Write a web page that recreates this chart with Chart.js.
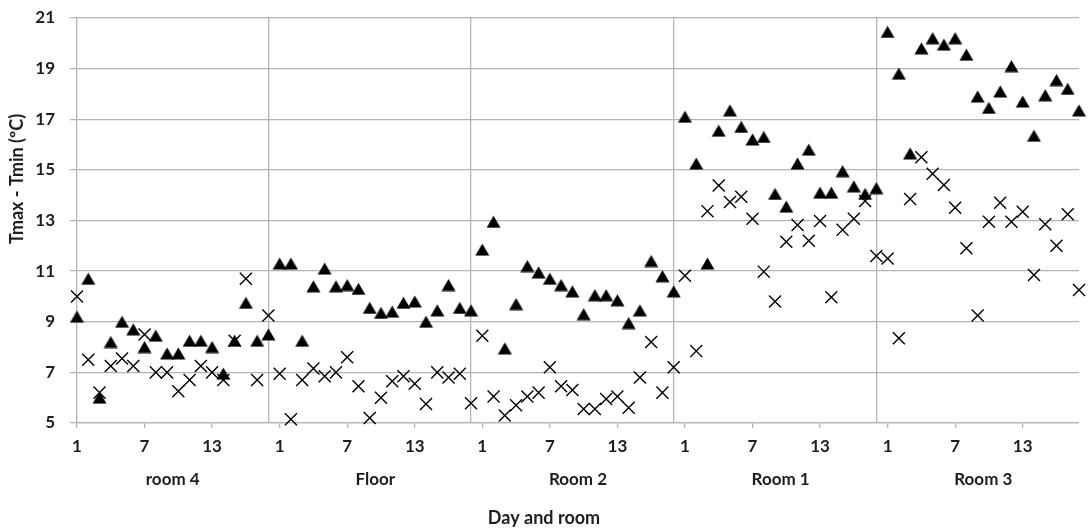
<!DOCTYPE html>
<html>
<head>
<meta charset="utf-8">
<script src="https://cdn.jsdelivr.net/npm/chart.js@4.4.0/dist/chart.umd.min.js"></script>
<style>
  html, body { margin: 0; padding: 0; background: #fff; }
  canvas { display: block; }
</style>
</head>
<body>
<canvas id="chart" width="1088" height="530"></canvas>
<script>
// Rooms, in the order they were monitored
const groupNames = ['room 4', 'Floor', 'Room 2', 'Room 1', 'Room 3'];
const daysPerGroup = 18;
const dayTickDays = [1, 7, 13];
const yTickValues = [5, 7, 9, 11, 13, 15, 17, 19, 21];

// Daily temperature range (Tmax - Tmin, ºC), triangle series
const room4Tri = [9.2, 10.7, 6.0, 8.2, 9.0, 8.7, 8.0, 8.45, 7.75, 7.75, 8.25, 8.25, 8.0, 6.95, 8.25, 9.75, 8.25, 8.5];
const floorTri = [11.3, 11.3, 8.25, 10.4, 11.1, 10.4, 10.45, 10.3, 9.55, 9.35, 9.4, 9.75, 9.8, 9.0, 9.45, 10.45, 9.55, 9.45];
const room2Tri = [11.85, 12.95, 7.95, 9.7, 11.2, 10.95, 10.7, 10.45, 10.2, 9.3, 10.05, 10.05, 9.85, 8.95, 9.45, 11.4, 10.8, 10.2];
const room1Tri = [17.1, 15.25, 11.3, 16.55, 17.35, 16.7, 16.2, 16.3, 14.05, 13.55, 15.25, 15.8, 14.1, 14.1, 14.95, 14.35, 14.05, 14.28];
const room3Tri = [20.45, 18.8, 15.65, 19.8, 20.2, 19.95, 20.2, 19.55, 17.9, 17.45, 18.1, 19.1, 17.7, 16.35, 17.95, 18.55, 18.2, 17.35];

// Daily temperature range (Tmax - Tmin, ºC), cross series
const room4Cross = [10.0, 7.5, 6.2, 7.25, 7.55, 7.25, 8.5, 7.0, 7.0, 6.25, 6.7, 7.25, 7.0, 6.7, 8.25, 10.7, 6.7, 9.25];
const floorCross = [6.95, 5.15, 6.7, 7.15, 6.85, 7.0, 7.6, 6.45, 5.2, 6.0, 6.65, 6.85, 6.55, 5.75, 7.0, 6.8, 6.95, 5.78];
const room2Cross = [8.45, 6.05, 5.3, 5.7, 6.05, 6.2, 7.2, 6.45, 6.3, 5.55, 5.55, 5.95, 6.05, 5.6, 6.8, 8.2, 6.2, 7.2];
const room1Cross = [10.82, 7.84, 13.37, 14.38, 13.73, 13.94, 13.07, 10.98, 9.8, 12.16, 12.82, 12.2, 12.98, 9.97, 12.63, 13.07, 13.77, 11.6];
const room3Cross = [11.5, 8.35, 13.85, 15.5, 14.85, 14.4, 13.5, 11.9, 9.25, 12.95, 13.7, 12.95, 13.35, 10.85, 12.85, 12.0, 13.25, 10.25];

const triangleGroups = [room4Tri, floorTri, room2Tri, room1Tri, room3Tri];
const crossGroups = [room4Cross, floorCross, room2Cross, room1Cross, room3Cross];

const yAxisTitle = 'Tmax - Tmin (ºC)';
const xAxisTitle = 'Day and room';

const textColor = '#1e1e1e';
const gridColor = '#b4b4b4';
const fontFamily = 'Lato, "Open Sans", sans-serif';

// Each day becomes one slot on a continuous axis; room blocks follow each other.
function toPoints(groups) {
  return groups.flatMap((vals, g) => vals.map((v, i) => ({ x: g * daysPerGroup + i, y: v })));
}
const lastIndex = groupNames.length * daysPerGroup - 1;

// Room dividers sit on the last day of each room block
const dividers = groupNames.slice(0, -1).map((_, g) => g * daysPerGroup + daysPerGroup - 1);
const groupCenters = groupNames.map((_, g) => g * daysPerGroup + (daysPerGroup - 1) / 2);

const dayTickPositions = [];
const dayTickText = {};
groupNames.forEach((_, g) => {
  dayTickDays.forEach(d => {
    const pos = g * daysPerGroup + (d - 1);
    dayTickPositions.push(pos);
    dayTickText[pos] = String(d);
  });
});
const xTickPositions = [...dayTickPositions, ...dividers].sort((a, b) => a - b);
const isDivider = v => dividers.includes(v);

// Filled triangle marker, centred in its own box
function triangleMarker(w, h) {
  const c = document.createElement('canvas');
  c.width = w; c.height = h;
  const g = c.getContext('2d');
  g.fillStyle = '#000';
  g.beginPath();
  g.moveTo(w / 2, 0.5);
  g.lineTo(w - 0.5, h - 0.5);
  g.lineTo(0.5, h - 0.5);
  g.closePath();
  g.fill();
  return c;
}

const axisTitles = {
  id: 'axisTitles',
  afterDraw(chart) {
    const { ctx } = chart;
    ctx.save();
    ctx.fillStyle = textColor;
    ctx.font = 'bold 18px ' + fontFamily;
    ctx.textAlign = 'center';
    ctx.textBaseline = 'middle';
    ctx.fillText(xAxisTitle, chart.width / 2, 518);
    ctx.translate(17, 179);
    ctx.rotate(-Math.PI / 2);
    ctx.fillText(yAxisTitle, 0, 0);
    ctx.restore();
  }
};

const tickFont = { family: fontFamily, size: 17, weight: 'bold' };

new Chart(document.getElementById('chart'), {
  type: 'scatter',
  data: {
    datasets: [
      {
        label: 'cross',
        data: toPoints(crossGroups),
        pointStyle: 'crossRot',
        pointRadius: 8.5,
        pointBorderWidth: 1.4,
        borderColor: '#000',
        backgroundColor: '#000',
        clip: false,
        order: 0
      },
      {
        label: 'triangle',
        data: toPoints(triangleGroups),
        pointStyle: triangleMarker(15, 13),
        pointRadius: 7,
        clip: false,
        order: 1
      }
    ]
  },
  options: {
    responsive: false,
    animation: false,
    devicePixelRatio: 1,
    layout: { autoPadding: false, padding: { left: 0, right: 9, top: 18, bottom: 0 } },
    plugins: { legend: { display: false }, tooltip: { enabled: false } },
    scales: {
      x: {
        type: 'linear',
        position: 'bottom',
        weight: 0,
        min: 0,
        max: lastIndex,
        afterBuildTicks: s => { s.ticks = xTickPositions.map(v => ({ value: v })); },
        afterFit: s => { s.height = 32; },
        grid: {
          color: c => (c.tick && isDivider(c.tick.value)) ? gridColor : 'rgba(0,0,0,0)',
          tickColor: c => (c.tick && isDivider(c.tick.value)) ? 'rgba(0,0,0,0)' : gridColor,
          lineWidth: 1.3,
          tickLength: 5
        },
        border: { display: true, color: gridColor, width: 1.3 },
        ticks: {
          autoSkip: false,
          maxRotation: 0,
          padding: 8,
          color: textColor,
          font: tickFont,
          callback: v => dayTickText[v] !== undefined ? dayTickText[v] : ''
        }
      },
      x2: {
        type: 'linear',
        position: 'bottom',
        weight: 1,
        min: 0,
        max: lastIndex,
        afterBuildTicks: s => { s.ticks = groupCenters.map(v => ({ value: v })); },
        afterFit: s => { s.height = 75; },
        grid: { display: false, drawTicks: false },
        border: { display: false },
        ticks: {
          autoSkip: false,
          maxRotation: 0,
          padding: 14,
          color: textColor,
          font: tickFont,
          callback: (v, i) => groupNames[i]
        }
      },
      y: {
        min: 5,
        max: 21,
        afterBuildTicks: s => { s.ticks = yTickValues.map(v => ({ value: v })); },
        afterFit: s => { s.width = 77; s.paddingTop = 0; s.paddingBottom = 0; },
        grid: { color: gridColor, lineWidth: 1.3, tickLength: 7, tickColor: gridColor },
        border: { display: true, color: gridColor, width: 1.3 },
        ticks: { padding: 15, color: textColor, font: tickFont }
      }
    }
  },
  plugins: [axisTitles]
});
</script>
</body>
</html>
